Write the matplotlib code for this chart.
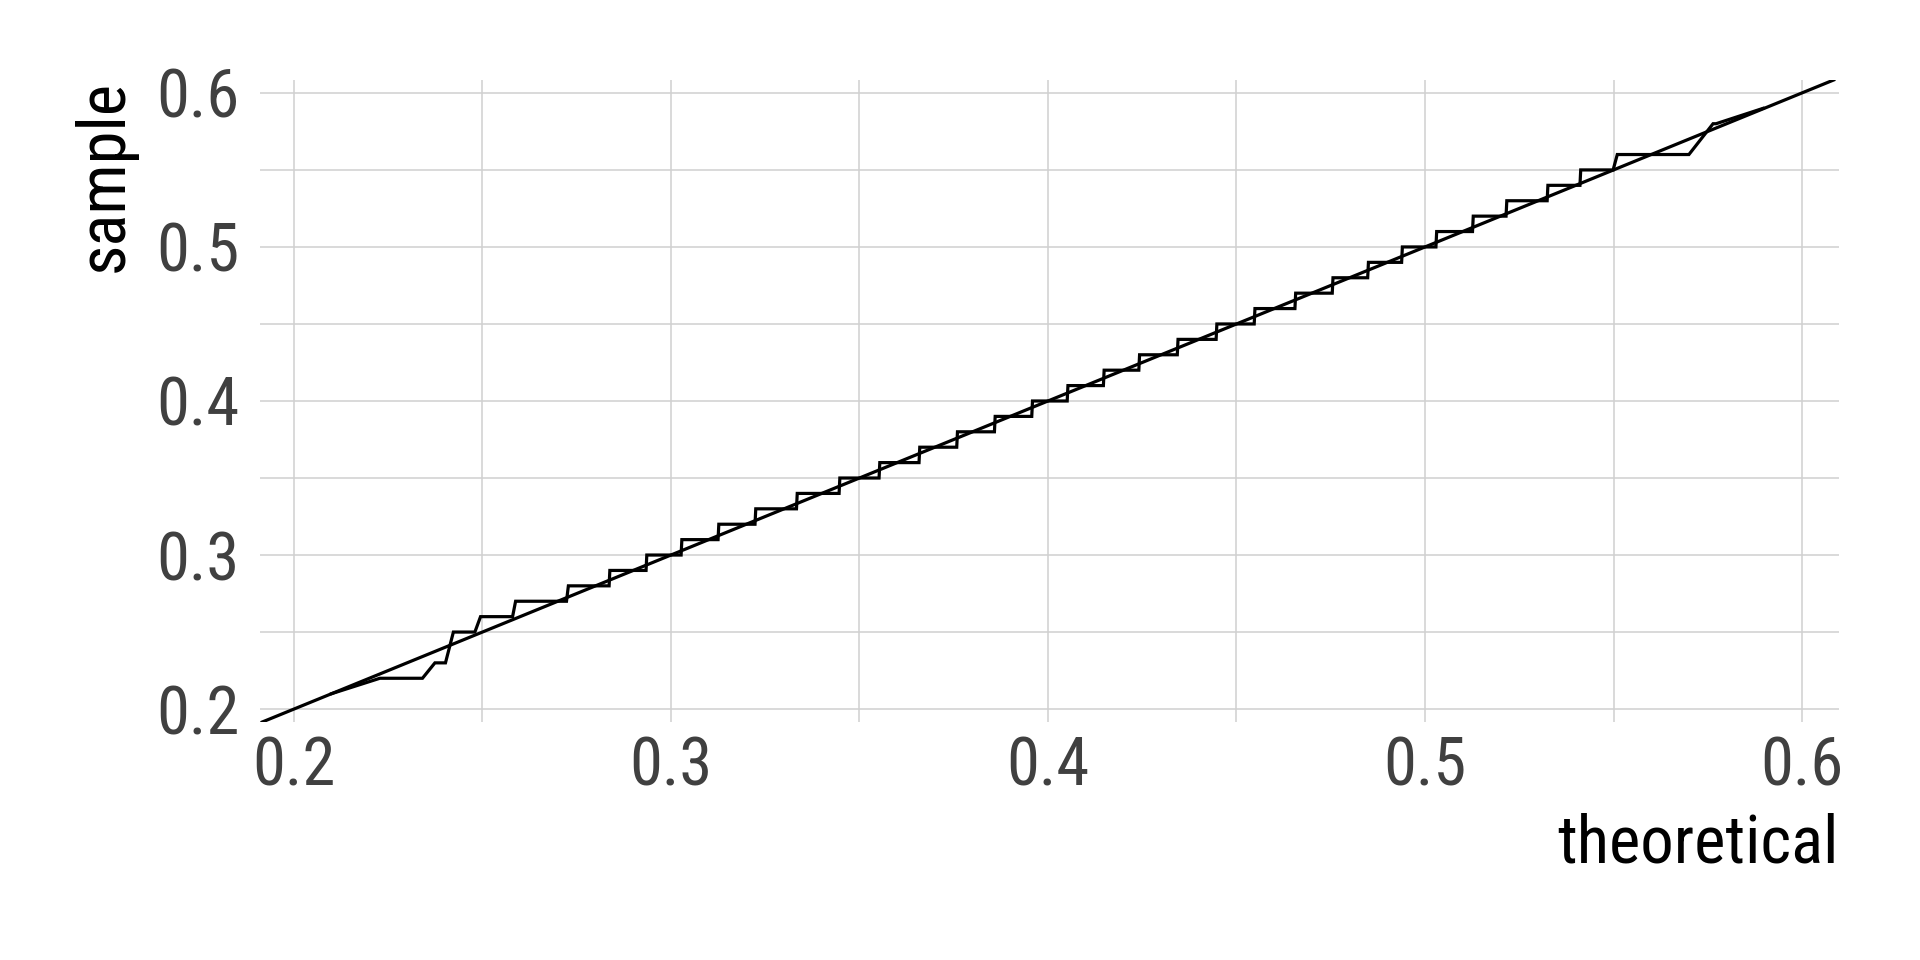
import matplotlib
matplotlib.use("Agg")
import matplotlib.pyplot as plt
from matplotlib import font_manager
from matplotlib.ticker import MultipleLocator

# pick a condensed Roboto if it is around, else plain Roboto
names = {f.name for f in font_manager.fontManager.ttflist}
font = "Roboto Condensed" if "Roboto Condensed" in names else "Roboto"
plt.rcParams["font.family"] = [font, "DejaVu Sans"]

# sample quantile levels and the theoretical range each level covers
levels = [0.21, 0.22, 0.23, 0.25, 0.26, 0.27, 0.28, 0.29, 0.30, 0.31,
          0.32, 0.33, 0.34, 0.35, 0.36, 0.37, 0.38, 0.39, 0.40, 0.41,
          0.42, 0.43, 0.44, 0.45, 0.46, 0.47, 0.48, 0.49, 0.50, 0.51,
          0.52, 0.53, 0.54, 0.55, 0.56, 0.58, 0.59]
theo_start = [0.2100, 0.2228, 0.2374, 0.2423, 0.2495, 0.2588, 0.2728, 0.2838, 0.2936, 0.3029,
              0.3127, 0.3225, 0.3335, 0.3448, 0.3554, 0.3660, 0.3760, 0.3860, 0.3959, 0.4053,
              0.4149, 0.4243, 0.4345, 0.4448, 0.4549, 0.4657, 0.4756, 0.4850, 0.4940, 0.5031,
              0.5128, 0.5217, 0.5326, 0.5413, 0.5510, 0.5764, 0.5897]
theo_end = [0.2100, 0.2341, 0.2402, 0.2480, 0.2580, 0.2723, 0.2836, 0.2934, 0.3027, 0.3125,
            0.3223, 0.3333, 0.3446, 0.3552, 0.3658, 0.3758, 0.3858, 0.3957, 0.4051, 0.4147,
            0.4241, 0.4343, 0.4446, 0.4547, 0.4655, 0.4754, 0.4848, 0.4938, 0.5029, 0.5126,
            0.5215, 0.5324, 0.5411, 0.5499, 0.5700, 0.5772, 0.5897]
x_ticks = [0.2, 0.3, 0.4, 0.5, 0.6]
y_ticks = [0.2, 0.3, 0.4, 0.5, 0.6]

# build the qq line vertices
xs, ys = [], []
for lv, a, b in zip(levels, theo_start, theo_end):
    xs += [a, b]
    ys += [lv, lv]

fig = plt.figure(figsize=(19.2, 9.6), dpi=100)
ax = fig.add_axes([0.1354, 0.2479, 0.8224, 0.6688])

ax.plot(xs, ys, color="black", linewidth=2.3, solid_joinstyle="miter")
ax.axline((0.2, 0.2), slope=1, color="black", linewidth=2.3)

ax.set_xlim(0.191, 0.6098)
ax.set_ylim(0.1916, 0.6084)
ax.set_xticks(x_ticks)
ax.set_yticks(y_ticks)
ax.xaxis.set_minor_locator(MultipleLocator(0.05))
ax.yaxis.set_minor_locator(MultipleLocator(0.05))
ax.set_xticklabels([f"{v:.1f}" for v in x_ticks])
ax.set_yticklabels([f"{v:.1f}" for v in y_ticks])

ax.grid(True, which="both", color="#d0d0d0", linewidth=1.1)
ax.set_axisbelow(True)
for s in ax.spines.values():
    s.set_visible(False)
ax.tick_params(which="both", length=0)
ax.tick_params(axis="x", labelsize=48, labelcolor="#404040", pad=10)
ax.tick_params(axis="y", labelsize=48, labelcolor="#404040", pad=15)

ax.set_xlabel("theoretical", fontsize=48, color="black", loc="right", labelpad=9)
ax.set_ylabel("sample", fontsize=48, color="black", loc="top", labelpad=14)

fig.savefig("out.png", dpi=100, facecolor="white")
